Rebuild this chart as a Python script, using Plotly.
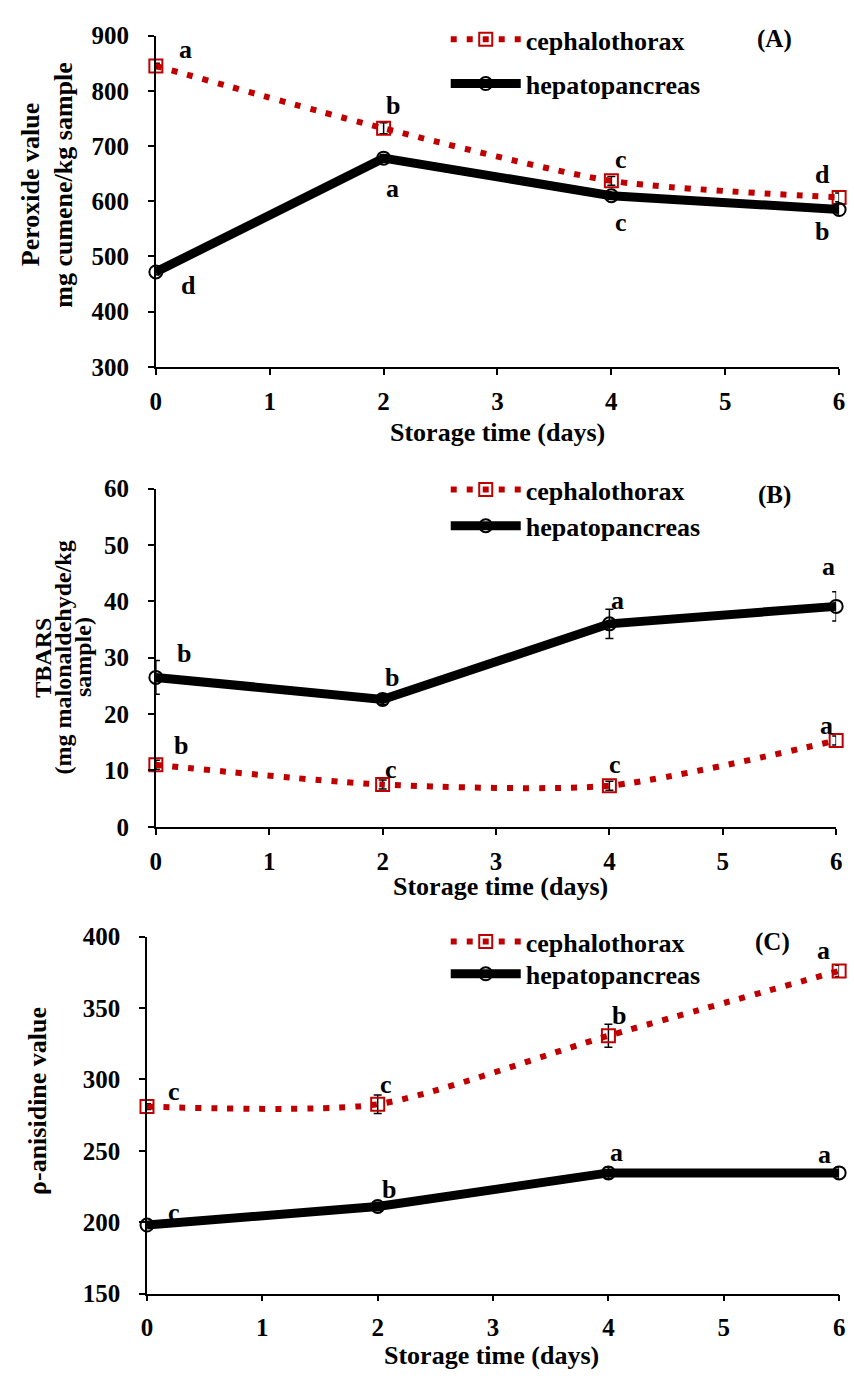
import plotly.graph_objects as go

# ---------------- data ----------------
days = [0, 2, 4, 6]
x_ticks = [0, 1, 2, 3, 4, 5, 6]

pv_ceph = [845, 732, 637, 607]
pv_ceph_err = [5, 10, 8, 8]
pv_hep = [472, 678, 610, 585]
pv_hep_err = [5, 6, 6, 10]
pv_ceph_letters = ["a", "b", "c", "d"]
pv_hep_letters = ["d", "a", "c", "b"]

tb_ceph = [11.0, 7.5, 7.3, 15.3]
tb_ceph_err = [0.8, 0.8, 0.8, 0.8]
tb_hep = [26.5, 22.6, 36.0, 39.1]
tb_hep_err = [3.0, 0.9, 2.6, 2.6]
tb_ceph_letters = ["b", "c", "c", "a"]
tb_hep_letters = ["b", "b", "a", "a"]

an_ceph = [281, 282.6, 330.6, 376]
an_ceph_err = [2, 6.5, 8, 4]
an_hep = [198, 211, 234.5, 234.5]
an_hep_err = [2, 3, 4, 4]
an_ceph_letters = ["c", "c", "b", "a"]
an_hep_letters = ["c", "b", "a", "a"]

series_names = ["cephalothorax", "hepatopancreas"]
panel_tags = ["(A)", "(B)", "(C)"]
x_title = "Storage time (days)"

# ---------------- layout helpers ----------------
W, H = 854, 1385
RED = "#C00000"
FONT = "Liberation Serif"


def px(x):
    return x / W


def py(y):
    return 1 - y / H


fig = go.Figure()

panels = [
    dict(ax="", ceph=pv_ceph, ce=pv_ceph_err, hep=pv_hep, he=pv_hep_err,
         cl=pv_ceph_letters, hl=pv_hep_letters,
         cshift=[(30, 16), (9, 23), (10, 21), (-17, 23)],
         hshift=[(33, -14), (9, -30), (10, -27), (-17, -22)],
         xdom=(152, 845), ydom=(23, 361), yr=(300, 900), dt=100,
         leg=(27, 72), tag=(779, 27)),
    dict(ax="2", ceph=tb_ceph, ce=tb_ceph_err, hep=tb_hep, he=tb_hep_err,
         cl=tb_ceph_letters, hl=tb_hep_letters,
         cshift=[(25, 19), (8, 15), (6, 21), (-10, 15)],
         hshift=[(28, 24), (9, 22), (8, 23), (-8, 40)],
         xdom=(152, 842), ydom=(485, 830), yr=(0, 60), dt=10,
         leg=(486, 523), tag=(779, 492)),
    dict(ax="3", ceph=an_ceph, ce=an_ceph_err, hep=an_hep, he=an_hep_err,
         cl=an_ceph_letters, hl=an_hep_letters,
         cshift=[(27, 15), (8, 20), (11, 20), (-16, 20)],
         hshift=[(27, 13), (11, 17), (8, 20), (-15, 18)],
         xdom=(143, 845), ydom=(942, 1306), yr=(150, 400), dt=50,
         leg=(947, 980), tag=(777, 947)),
]

annotations = []
layout_axes = {}
legends = {}

for i, p in enumerate(panels):
    xa = "x" + p["ax"]
    ya = "y" + p["ax"]
    lg1 = "legend" if i == 0 else f"legend{2 * i + 1}"
    lg2 = f"legend{2 * i + 2}"

    fig.add_trace(go.Scatter(
        x=days, y=p["ceph"], name=series_names[0], xaxis=xa, yaxis=ya,
        mode="lines+markers",
        line=dict(color=RED, width=6, dash="6px,10px", shape="spline", smoothing=0.7),
        marker=dict(symbol="square-open", size=13, color=RED, line=dict(width=2, color=RED)),
        error_y=dict(type="data", array=p["ce"], color="black", thickness=1.5, width=4),
        cliponaxis=False, legend=lg1, showlegend=True))
    fig.add_trace(go.Scatter(
        x=days, y=p["hep"], name=series_names[1], xaxis=xa, yaxis=ya,
        mode="lines+markers", line=dict(color="black", width=9),
        marker=dict(symbol="circle-open", size=13, color="black", line=dict(width=2, color="black")),
        error_y=dict(type="data", array=p["he"], color="black", thickness=1.5, width=4),
        cliponaxis=False, legend=lg2, showlegend=True))

    for vals, letters, shifts in ((p["ceph"], p["cl"], p["cshift"]), (p["hep"], p["hl"], p["hshift"])):
        for d, v, L, (sx, sy) in zip(days, vals, letters, shifts):
            annotations.append(dict(x=d, y=v, xref=xa, yref=ya, text=L, showarrow=False,
                                    xanchor="center", yanchor="middle",
                                    xshift=sx, yshift=sy, font=dict(size=26)))

    axis_common = dict(showline=True, linecolor="black", linewidth=1.5, showgrid=False,
                       zeroline=False, ticks="outside", ticklen=6, tickcolor="black",
                       tickwidth=1.5, tickfont=dict(size=25, family=FONT, weight="bold"))
    key = "" if i == 0 else str(i + 1)
    layout_axes["xaxis" + key] = dict(axis_common, domain=[px(p["xdom"][0]), px(p["xdom"][1])],
                                      range=[0, 6], tickvals=x_ticks, anchor=ya,
                                      ticklabelstandoff=5)
    layout_axes["yaxis" + key] = dict(axis_common, domain=[py(p["ydom"][1]), py(p["ydom"][0])],
                                      range=list(p["yr"]), dtick=p["dt"], anchor=xa,
                                      ticklabelstandoff=14)

    for lg, ypix in ((lg1, p["leg"][0]), (lg2, p["leg"][1])):
        legends[lg] = dict(x=px(446), y=py(ypix), xanchor="left", yanchor="middle",
                           bgcolor="rgba(0,0,0,0)", font=dict(size=26, family=FONT, weight="bold"),
                           itemwidth=70, borderwidth=0, visible=True)

    annotations.append(dict(x=px(p["tag"][0]), y=py(p["tag"][1]), xref="paper", yref="paper",
                            xanchor="center", yanchor="middle",
                            text=panel_tags[i], showarrow=False, font=dict(size=25)))

# x-axis titles
for (cx, cy) in ((499, 428), (502, 891), (492, 1369)):
    annotations.append(dict(x=px(cx), y=py(cy), xref="paper", yref="paper", text=x_title,
                            xanchor="center", yanchor="middle",
                            showarrow=False, font=dict(size=26)))

# y-axis titles
ytitles = [
    ("Peroxide value", 25, 175, 26),
    ("mg cumene/kg sample", 58, 175, 26),
    ("TBARS", 38, 657, 24),
    ("(mg malonaldehyde/kg", 58, 657, 24),
    ("sample)", 78, 657, 24),
    ("ρ-anisidine value", 32, 1110, 26),
]
for t, cx, cy, fs in ytitles:
    annotations.append(dict(x=px(cx), y=py(cy), xref="paper", yref="paper", text=t,
                            xanchor="center", yanchor="middle",
                            textangle=-90, showarrow=False, font=dict(size=fs)))

fig.update_layout(
    width=W, height=H, margin=dict(l=0, r=0, t=0, b=0),
    paper_bgcolor="white", plot_bgcolor="white",
    font=dict(family=FONT, size=25, color="black", weight="bold"),
    showlegend=True,
    annotations=annotations,
    **layout_axes, **legends,
)

fig.write_html("out.html")
